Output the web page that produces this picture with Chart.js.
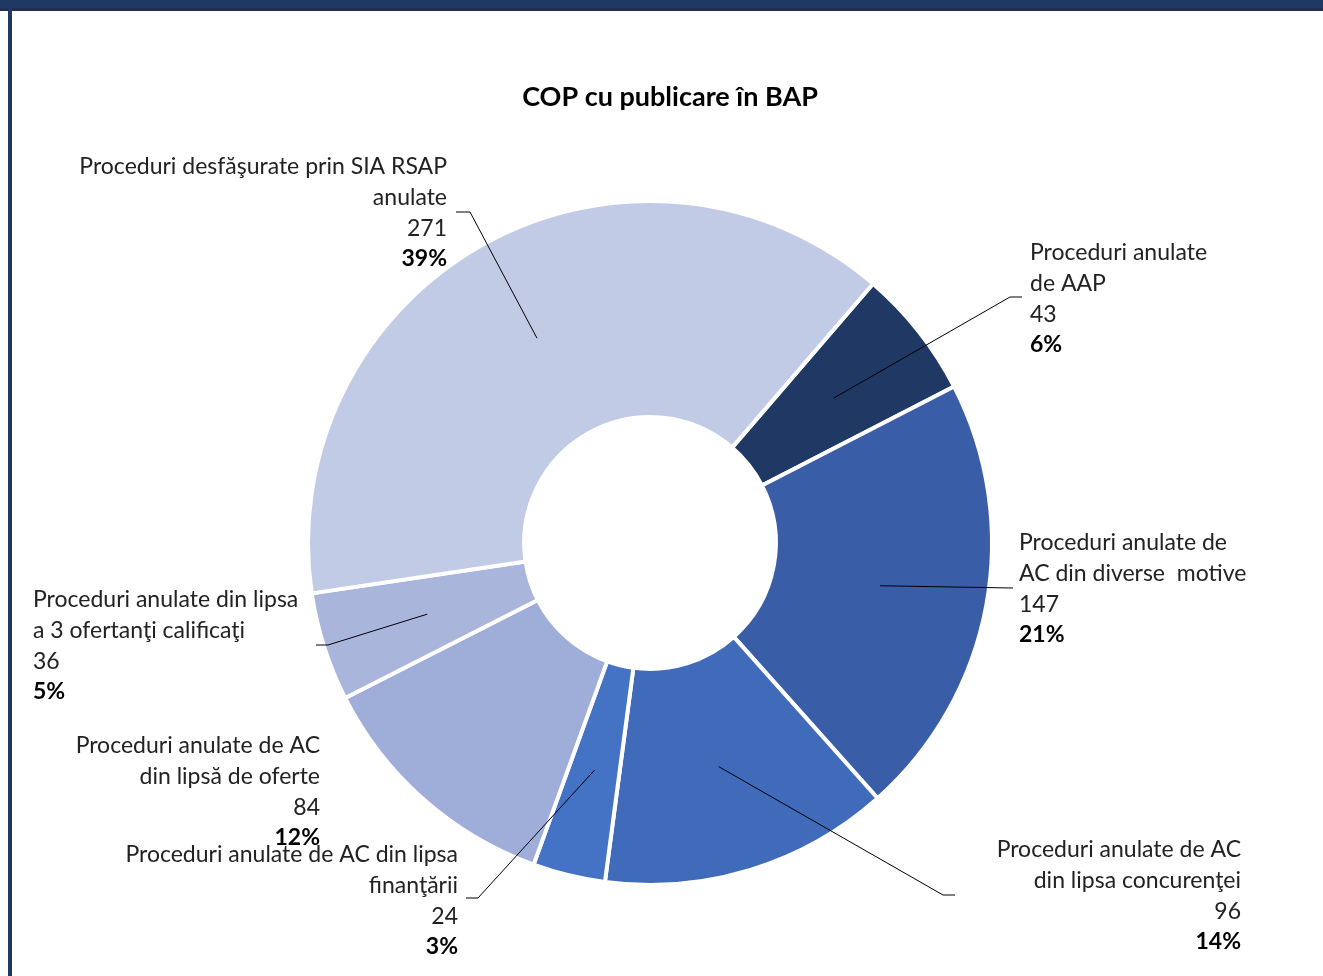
<!DOCTYPE html>
<html>
<head>
<meta charset="utf-8">
<script src="https://cdn.jsdelivr.net/npm/chart.js@4"></script>
<style>
  html, body { margin: 0; padding: 0; background: #fff; }
  #wrap { position: relative; width: 1323px; height: 976px; overflow: hidden; }
  #topbar { position: absolute; left: 0; top: 0; width: 1323px; height: 8px; background: #1F3864; border-bottom: 3px solid #262C52; }
  #leftbar { position: absolute; left: 8px; top: 0; width: 4px; height: 976px; background: #1F3864; }
  canvas { position: absolute; left: 0; top: 0; }
</style>
</head>
<body>
<div id="wrap">
  <canvas id="myChart" width="1323" height="976"></canvas>
  <div id="topbar"></div>
  <div id="leftbar"></div>
</div>
<script>
// data
const categories = [
  ['Proceduri anulate', 'de AAP'],
  ['Proceduri anulate de', 'AC din diverse  motive'],
  ['Proceduri anulate de AC', 'din lipsa concurenţei'],
  ['Proceduri anulate de AC din lipsa', 'finanţării'],
  ['Proceduri anulate de AC', 'din lipsă de oferte'],
  ['Proceduri anulate din lipsa', 'a 3 ofertanţi calificaţi'],
  ['Proceduri desfăşurate prin SIA RSAP', 'anulate']
];
const values = [43, 147, 96, 24, 84, 36, 271];
const percentLabels = ['6%', '21%', '14%', '3%', '12%', '5%', '39%'];
const colors = ['#203864', '#3A5DA8', '#3F6BBA', '#4472C4', '#9FADD9', '#AAB5DC', '#C2CBE5'];

// label layout: text anchor x, first line y, align, leader elbow [x, y] and end x (null = no leader)
const labelLayout = [
  { x: 1030, y: 253, align: 'left',  elbow: [1010, 297], end: 1022 },
  { x: 1019, y: 543, align: 'left',  elbow: [1013, 588], end: 1013 },
  { x: 1241, y: 850, align: 'right', elbow: [943, 895],  end: 955 },
  { x: 458,  y: 855, align: 'right', elbow: [478, 898],  end: 466 },
  { x: 320,  y: 746, align: 'right', elbow: null,        end: null },
  { x: 33,   y: 600, align: 'left',  elbow: [328, 645],  end: 316 },
  { x: 447,  y: 167, align: 'right', elbow: [470, 212],  end: 456 }
];
const lineH = 30.6;
const fontFamily = 'Lato, "Noto Sans", sans-serif';

const labelPlugin = {
  id: 'outLabels',
  afterDatasetsDraw(chart) {
    const c = chart.ctx;
    const meta = chart.getDatasetMeta(0);
    c.save();
    // title
    c.fillStyle = '#000';
    c.font = 'bold 27px ' + fontFamily;
    c.textAlign = 'center';
    c.textBaseline = 'middle';
    c.fillText('COP cu publicare în BAP', 670, 97);

    meta.data.forEach((arc, i) => {
      const L = labelLayout[i];
      if (L.elbow) {
        const p = arc.tooltipPosition();
        c.strokeStyle = '#000';
        c.lineWidth = 1;
        c.beginPath();
        c.moveTo(p.x, p.y);
        c.lineTo(L.elbow[0], L.elbow[1]);
        c.lineTo(L.end, L.elbow[1]);
        c.stroke();
      }
      c.textAlign = L.align;
      c.textBaseline = 'middle';
      c.fillStyle = '#222';
      c.font = '23px ' + fontFamily;
      const lines = categories[i].concat([String(values[i])]);
      lines.forEach((t, k) => c.fillText(t, L.x, L.y + k * lineH));
      c.fillStyle = '#000';
      c.font = 'bold 23px ' + fontFamily;
      c.fillText(percentLabels[i], L.x, L.y + lines.length * lineH);
    });
    c.restore();
  }
};

const ctx = document.getElementById('myChart');
const chart = new Chart(ctx, {
  type: 'doughnut',
  data: {
    labels: categories.map(l => l.join(' ')),
    datasets: [{
      data: values,
      backgroundColor: colors,
      borderColor: '#ffffff',
      borderWidth: 4
    }]
  },
  options: {
    responsive: false,
    animation: false,
    rotation: 40.7,
    radius: 342,
    cutout: '36.8%',
    layout: { padding: { left: 0, right: 23, top: 110, bottom: 0 } },
    plugins: {
      legend: { display: false },
      tooltip: { enabled: false },
      title: { display: false }
    }
  },
  plugins: [labelPlugin]
});
</script>
</body>
</html>
